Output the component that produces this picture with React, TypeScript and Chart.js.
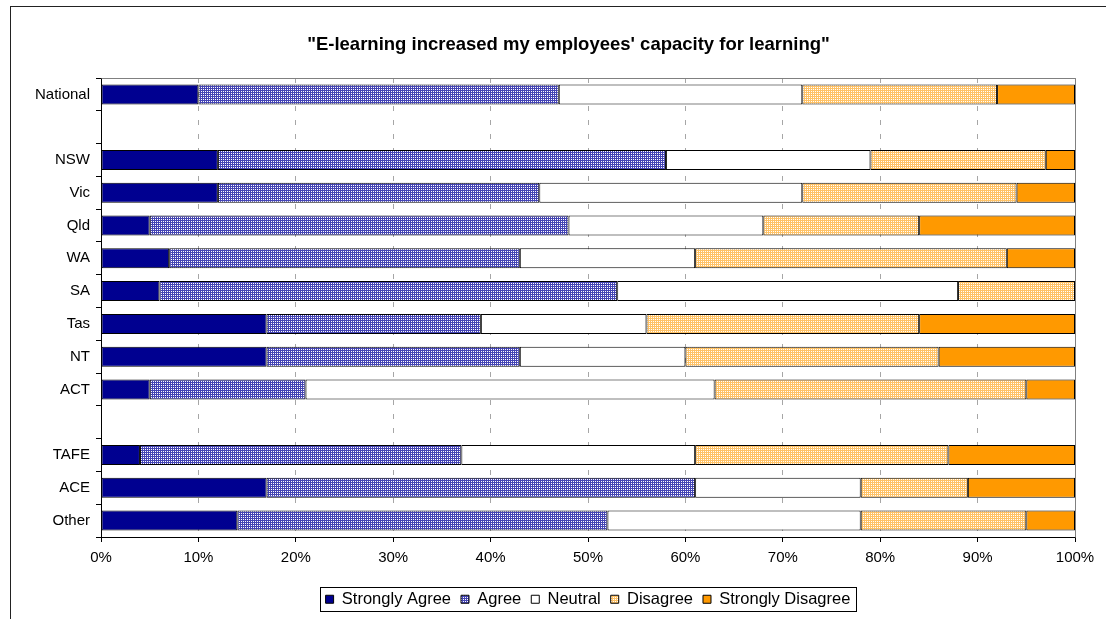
import React, { useEffect, useRef } from "react";
import { Chart, registerables } from "chart.js";

Chart.register(...registerables);

const titleText = "\"E-learning increased my employees' capacity for learning\"";
const categories = ["National", "", "NSW", "Vic", "Qld", "WA", "SA", "Tas", "NT", "ACT", "", "TAFE", "ACE", "Other"];
const seriesNames = ["Strongly Agree", "Agree", "Neutral", "Disagree", "Strongly Disagree"];
const stronglyAgree = [10, null, 12, 12, 5, 7, 6, 17, 17, 5, null, 4, 17, 14];
const agree = [37, null, 46, 33, 43, 36, 47, 22, 26, 16, null, 33, 44, 38];
const neutral = [25, null, 21, 27, 20, 18, 35, 17, 17, 42, null, 24, 17, 26];
const disagree = [20, null, 18, 22, 16, 32, 12, 28, 26, 32, null, 26, 11, 17];
const stronglyDisagree = [8, null, 3, 6, 16, 7, 0, 16, 14, 5, null, 13, 11, 5];
const xTickLabels = ["0%", "10%", "20%", "30%", "40%", "50%", "60%", "70%", "80%", "90%", "100%"];

const FONT = "Arial, 'Liberation Sans', sans-serif";

function makePattern(base: string, dot: string): CanvasPattern | string {
  const c = document.createElement("canvas");
  c.width = 2;
  c.height = 2;
  const g = c.getContext("2d");
  if (!g) return base;
  g.fillStyle = base;
  g.fillRect(0, 0, 2, 2);
  g.fillStyle = dot;
  g.fillRect(1, 1, 1, 1);
  return g.createPattern(c, "repeat") || base;
}

const decorPlugin = {
  id: "decor",
  beforeDatasetsDraw(chart: any) {
    const { ctx, chartArea } = chart;
    ctx.save();
    ctx.strokeStyle = "#808080";
    ctx.lineWidth = 1;
    ctx.beginPath();
    const l = Math.round(chartArea.left) + 0.5;
    const t = Math.round(chartArea.top) + 0.5;
    const r = Math.round(chartArea.right) + 0.5;
    const b = Math.round(chartArea.bottom) + 0.5;
    ctx.moveTo(l, t);
    ctx.lineTo(r, t);
    ctx.lineTo(r, b);
    ctx.stroke();
    ctx.restore();
  },
  afterDraw(chart: any) {
    const { ctx } = chart;
    // chart title
    ctx.save();
    ctx.fillStyle = "#000";
    ctx.font = "bold 18.5px " + FONT;
    ctx.textAlign = "center";
    ctx.textBaseline = "alphabetic";
    ctx.fillText(titleText, 568.5, 49.5);
    ctx.restore();
    // legend frame
    const lg = chart.legend;
    if (!lg || !lg.legendHitBoxes || !lg.legendHitBoxes.length) return;
    const hb = lg.legendHitBoxes;
    const last = hb[hb.length - 1];
    const left = hb[0].left - 6;
    const right = last.left + last.width + 5;
    const cy = hb[0].top + hb[0].height / 2;
    ctx.save();
    ctx.strokeStyle = "#000";
    ctx.lineWidth = 1;
    ctx.strokeRect(Math.round(left) + 0.5, Math.round(cy - 12) + 0.5, Math.round(right - left), 24);
    ctx.restore();
  },
};

export default function App() {
  const canvasRef = useRef<HTMLCanvasElement | null>(null);

  useEffect(() => {
    if (!canvasRef.current) return;
    const agreeFill = makePattern("#4444b4", "#ffffff");
    const disagreeFill = makePattern("#ffc266", "#ffffff");
    const fills: any[] = ["#000090", agreeFill, "#ffffff", disagreeFill, "#ff9900"];
    const values = [stronglyAgree, agree, neutral, disagree, stronglyDisagree];

    const chart = new Chart(canvasRef.current, {
      type: "bar",
      data: {
        labels: categories,
        datasets: seriesNames.map((name, i) => ({
          label: name,
          data: values[i] as any,
          backgroundColor: fills[i],
          borderColor: "#000000",
          borderWidth: 1,
          borderSkipped: false,
          barPercentage: 0.61,
          categoryPercentage: 1,
        })),
      },
      options: {
        indexAxis: "y",
        responsive: false,
        animation: false,
        events: [],
        layout: { padding: { left: 0, right: 31, top: 78, bottom: 1.5 } },
        scales: {
          x: {
            stacked: true,
            min: 0,
            max: 100,
            ticks: {
              stepSize: 10,
              color: "#000",
              padding: 7,
              font: { family: FONT, size: 15 },
              callback: (_v: any, i: number) => xTickLabels[i],
            },
            grid: {
              color: (c: any) => (c.index === 0 ? "rgba(0,0,0,0)" : "#a6a6a6"),
              lineWidth: 1,
              drawTicks: true,
              tickLength: 5,
              tickColor: "#000",
            },
            border: { display: true, color: "#000", width: 1, dash: [5, 9] },
            afterFit: (scale: any) => {
              scale.height = 44;
            },
          },
          y: {
            stacked: true,
            ticks: {
              color: "#000",
              padding: 6,
              font: { family: FONT, size: 15 },
              autoSkip: false,
            },
            grid: {
              drawOnChartArea: false,
              drawTicks: true,
              tickLength: 5,
              tickColor: "#000",
              offset: true,
            },
            border: { display: true, color: "#000", width: 1 },
            afterFit: (scale: any) => {
              scale.width = 101;
            },
          },
        },
        plugins: {
          title: { display: false },
          legend: {
            display: true,
            position: "bottom",
            fullSize: false,
            labels: {
              color: "#000",
              font: { family: FONT, size: 16.5 },
              boxWidth: 8,
              boxHeight: 8,
              padding: 10,
            },
          },
          tooltip: { enabled: false },
        },
      },
      plugins: [decorPlugin],
    } as any);

    return () => {
      chart.destroy();
    };
  }, []);

  return (
    <div
      style={{
        position: "fixed",
        left: 0,
        top: 0,
        width: 1106,
        height: 619,
        overflow: "hidden",
        background: "#ffffff",
      }}
    >
      <div
        style={{
          position: "absolute",
          left: 10,
          top: 6,
          width: 1200,
          height: 700,
          borderLeft: "1px solid #222",
          borderTop: "1px solid #222",
        }}
      />
      <canvas
        ref={canvasRef}
        width={1106}
        height={619}
        style={{ position: "absolute", left: 0, top: 0, width: 1106, height: 619 }}
      />
    </div>
  );
}
